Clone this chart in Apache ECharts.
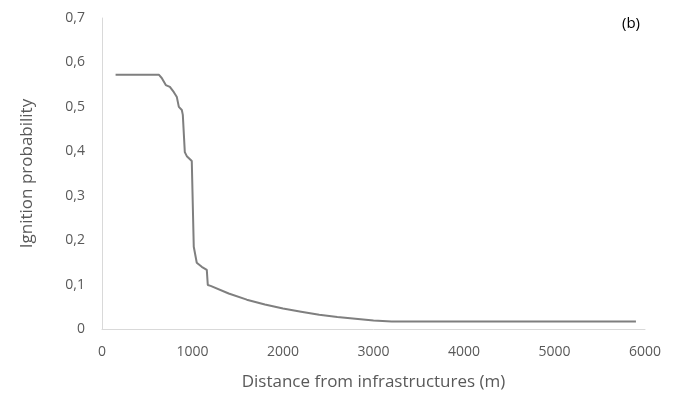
<!DOCTYPE html>
<html><head><meta charset="utf-8">
<script src="https://cdn.jsdelivr.net/npm/echarts@6/dist/echarts.min.js"></script>
<style>html,body{margin:0;padding:0;background:#fff}#c{width:680px;height:401px}</style>
</head><body><div id="c"></div>
<script>
var distance = [150, 630, 660, 705, 750, 794, 827, 849, 882, 893, 915, 937, 992, 1014, 1047, 1102, 1158, 1169, 1200, 1400, 1600, 1800, 2000, 2200, 2400, 2600, 2800, 3000, 3200, 5900];
var probability = [0.572, 0.572, 0.565, 0.549, 0.545, 0.533, 0.522, 0.500, 0.493, 0.482, 0.398, 0.389, 0.378, 0.185, 0.149, 0.140, 0.133, 0.099, 0.097, 0.080, 0.066, 0.055, 0.046, 0.039, 0.032, 0.027, 0.023, 0.019, 0.017, 0.017];
var panelLabel = '(b)';
var xName = 'Distance from infrastructures (m)';
var yName = 'Ignition probability';

var pts = distance.map(function(d, i){ return [d, probability[i]]; });
var chart = echarts.init(document.getElementById('c'));
var font = 'Open Sans';
chart.setOption({
  animation: false,
  textStyle: {fontFamily: font},
  title: {text: panelLabel, right: 35, top: 11, textStyle: {fontSize: 15, fontWeight: 'normal', color: '#000', fontFamily: font}},
  grid: {left: 102, right: 35, top: 18, bottom: 72},
  xAxis: {
    type: 'value', min: 0, max: 6000, interval: 1000,
    name: xName, nameLocation: 'middle', nameGap: 45,
    nameTextStyle: {fontSize: 17, color: '#595959'},
    axisLine: {show: true, lineStyle: {color: '#d9d9d9', width: 1}},
    axisTick: {show: false}, splitLine: {show: false},
    axisLabel: {fontSize: 14, color: '#595959', margin: 16,
      formatter: function(v){ return String(v); }}
  },
  yAxis: {
    type: 'value', min: 0, max: 0.7, interval: 0.1,
    name: yName, nameLocation: 'middle', nameGap: 66,
    nameTextStyle: {fontSize: 17, color: '#595959'},
    axisLine: {show: true, lineStyle: {color: '#d9d9d9', width: 1}},
    axisTick: {show: false}, splitLine: {show: false},
    axisLabel: {fontSize: 14, color: '#595959', margin: 17,
      formatter: function(v){ return String(Math.round(v*10)/10).replace('.', ','); }}
  },
  series: [{
    type: 'line', data: pts, showSymbol: false, smooth: false,
    lineStyle: {color: '#7f7f7f', width: 2}
  }]
});
</script></body></html>
